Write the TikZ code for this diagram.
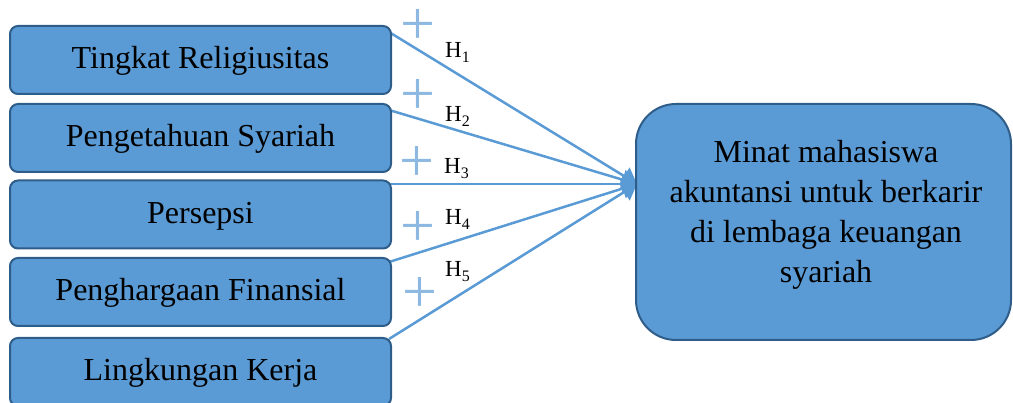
\documentclass[tikz,border=0pt]{standalone}
\usepackage{fontspec}
\setmainfont{Liberation Serif}
\usetikzlibrary{arrows.meta}
\definecolor{boxfill}{HTML}{5B9BD5}
\definecolor{boxline}{HTML}{2F5D8A}
\definecolor{plusc}{HTML}{8DB8E2}
\newcommand{\Hlab}[1]{H\raisebox{-5pt}{\fontsize{16}{16}\selectfont #1}}
\tikzset{
  varbox/.style={draw=boxline, line width=2pt, fill=boxfill, rounded corners=8pt,
    minimum width=381pt, minimum height=68pt, inner sep=0pt,
    text height=25pt, text depth=7pt, font=\fontsize{32}{40}\selectfont},
  targetbox/.style={draw=boxline, line width=2pt, fill=boxfill, rounded corners=40pt,
    minimum width=375pt, minimum height=236pt, inner sep=0pt},
  targettext/.style={align=center, inner sep=0pt,
    font=\fontsize{32}{40}\selectfont},
  link/.style={draw=boxfill, line width=2.5pt, -{Triangle[length=15pt,width=20pt]}},
  plussign/.style={text=plusc, inner sep=0pt, font=\fontsize{62}{62}\selectfont},
  hyp/.style={anchor=base west, inner sep=0pt, font=\fontsize{23}{26}\selectfont}
}
\begin{document}
\begin{tikzpicture}[x=1pt,y=-1pt]
\useasboundingbox (0,0) rectangle (1013,403);
\clip (0,0) rectangle (1013,403);
\coordinate (tip) at (637,184);
% connectors first (boxes drawn over their start)
\coordinate (s1) at (389,32);
\coordinate (s2) at (389,110);
\coordinate (s3) at (389,184);
\coordinate (s4) at (389,262);
\coordinate (s5) at (389,339);
\draw[link] (s1) -- (tip);
\draw[link] (s2) -- (tip);
\draw[link] (s3) -- (tip);
\draw[link] (s4) -- (tip);
\draw[link] (s5) -- (tip);
\node[varbox] (b1) at (200.5,60) {Tingkat Religiusitas};
\node[varbox] (b2) at (200.5,138) {Pengetahuan Syariah};
\node[varbox] (b3) at (200.5,214.5) {Persepsi};
\node[varbox] (b4) at (200.5,292) {Penghargaan Finansial};
\node[varbox] (b5) at (200.5,372) {Lingkungan Kerja};
\node[targetbox] (t) at (823.5,222) {};
\node[targettext] (tt) at (826,215) {Minat mahasiswa\\akuntansi untuk berkarir\\di lembaga keuangan\\syariah};
\node[plussign] (p1) at (418,27) {+};
\node[plussign] (p2) at (418,97) {+};
\node[plussign] (p3) at (417,164) {+};
\node[plussign] (p4) at (418,229) {+};
\node[plussign] (p5) at (420,295) {+};
\node[hyp] (h1) at (445,58) {\Hlab{1}};
\node[hyp] (h2) at (445,122) {\Hlab{2}};
\node[hyp] (h3) at (444,174) {\Hlab{3}};
\node[hyp] (h4) at (445,225) {\Hlab{4}};
\node[hyp] (h5) at (445,277) {\Hlab{5}};
\end{tikzpicture}
\end{document}
